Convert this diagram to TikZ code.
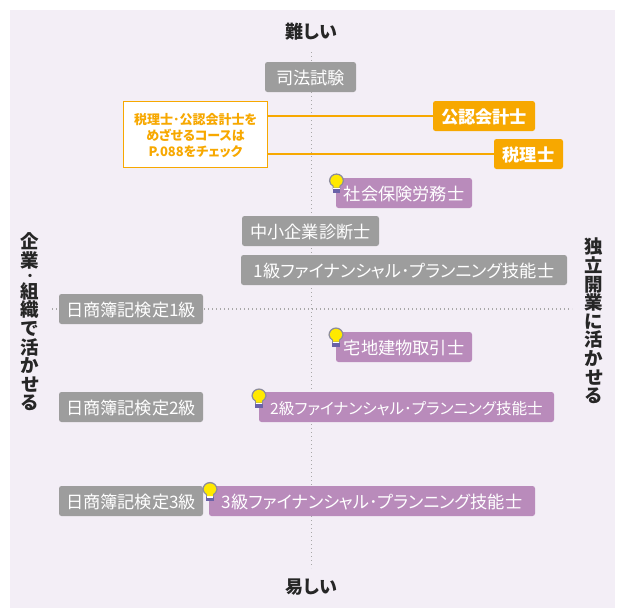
\documentclass[tikz,border=0pt]{standalone}
\usepackage{fontspec}
\setmainfont{Noto Sans CJK JP}[RawFeature=+palt]
\definecolor{panel}{HTML}{F3EEF6}
\definecolor{greybox}{HTML}{9D9D9D}
\definecolor{purplebox}{HTML}{B98BBB}
\definecolor{orangebox}{HTML}{F7A800}
\definecolor{dotline}{HTML}{A8A8A8}
\definecolor{bulbring}{HTML}{8C8C9C}
\definecolor{bulbbase}{HTML}{6A62A8}
\definecolor{bulbfill}{HTML}{FFE900}
\tikzset{
  x=1pt,y=-1pt,
  tag/.style={rounded corners=2.5pt,minimum height=30pt,inner sep=0pt,text=white,font=\fontsize{17.2}{17.2}\selectfont,text height=15pt,text depth=0pt,anchor=center},
  greytag/.style={tag,fill=greybox},
  purpletag/.style={tag,fill=purplebox},
  orangetag/.style={tag,fill=orangebox,font=\fontsize{17.2}{17.2}\selectfont\bfseries},
  axislabel/.style={text=black!85,font=\fontsize{18}{18}\selectfont\bfseries,inner sep=0pt},
  sidelabel/.style={axislabel,align=center,font=\fontsize{18.5}{18.6}\selectfont\bfseries},
  axisline/.style={dotline,line width=1.3pt,dash pattern=on 1.4pt off 2.6pt},
  link/.style={draw=orangebox,line width=1.3pt},
  bulb/.pic={
    \begin{scope}[scale=1.1]
    \fill[bulbring] (-3.6,7.5) -- (-3.6,4.8) .. controls (-5,3.8) and (-6.9,2.5) .. (-6.9,0) arc[start angle=180,end angle=360,radius=6.9] .. controls (6.9,2.5) and (5,3.8) .. (3.6,4.8) -- (3.6,7.5) -- cycle;
    \fill[bulbbase] (-3.4,7) rectangle (3.4,10.5);
    \fill[white] (-3,6) rectangle (3,7.6);
    \fill[bulbfill] (-2.6,6) -- (-2.6,4.2) .. controls (-4,3.2) and (-5.6,2) .. (-5.6,0) arc[start angle=180,end angle=360,radius=5.6] .. controls (5.6,2) and (4,3.2) .. (2.6,4.2) -- (2.6,6) -- cycle;
    \end{scope}
  }
}
\begin{document}
\begin{tikzpicture}
\useasboundingbox (0,0) rectangle (620,608);
\fill[white] (0,0) rectangle (620,608);
\fill[panel] (10,10) rectangle (615,608);
\coordinate (vtop) at (311.5,52);
\coordinate (vbot) at (311.5,568);
\coordinate (hleft) at (52,309);
\coordinate (hright) at (572,309);
\draw[axisline] (vtop) -- (vbot);
\draw[axisline] (hleft) -- (hright);
\node[axislabel] (hard) at (311.5,32) {難しい};
\node[axislabel] (easy) at (311.5,587) {易しい};
\node[sidelabel] (left) at (30,322) {企\\業\\[-5.6pt]{\fontsize{12}{12}\selectfont ・}\\[-0.6pt]組\\織\\で\\活\\か\\せ\\る};
\node[sidelabel] (right) at (594,321) {独\\立\\開\\業\\に\\活\\か\\せ\\る};
\node[greytag,minimum width=91pt] (shiho) at (310.5,77) {司法試験};
\node[orangetag,minimum width=102pt] (cpa) at (484,116) {公認会計士};
\node[orangetag,minimum width=69pt] (zei) at (528.5,154) {税理士};
\node[draw=orangebox,line width=1.3pt,fill=white,minimum width=144pt,minimum height=66pt,inner sep=0pt,text=orangebox,align=center,font=\fontsize{13}{16}\selectfont\bfseries] (note) at (195.5,134.5) {\rule{0pt}{14pt}税理士･公認会計士を\\めざせるコースは\\P.088をチェック};
\coordinate (n1) at (268,116);
\coordinate (n2) at (268,154);
\draw[link] (n1) -- (cpa.west);
\draw[link] (n2) -- (zei.west);
\node[purpletag,minimum width=136pt] (sha) at (404,193) {社会保険労務士};
\node[greytag,minimum width=137pt] (chu) at (310.5,231) {中小企業診断士};
\node[greytag,minimum width=326pt] (fp1) at (404,270) {1級ファイナンシャル･プランニング技能士};
\node[greytag,minimum width=144pt] (nis1) at (131,309) {日商簿記検定1級};
\node[purpletag,minimum width=136pt] (tak) at (404,347) {宅地建物取引士};
\node[greytag,minimum width=144pt] (nis2) at (131,407) {日商簿記検定2級};
\node[purpletag,minimum width=295pt,font=\fontsize{15.6}{15.6}\selectfont] (fp2) at (406.5,407) {2級ファイナンシャル･プランニング技能士};
\node[greytag,minimum width=144pt] (nis3) at (131,501) {日商簿記検定3級};
\node[purpletag,minimum width=326pt] (fp3) at (372,501) {3級ファイナンシャル･プランニング技能士};
\pic at (336.5,181) {bulb};
\pic at (336,335) {bulb};
\pic at (259,396) {bulb};
\pic at (210,489.5) {bulb};
\end{tikzpicture}
\end{document}
